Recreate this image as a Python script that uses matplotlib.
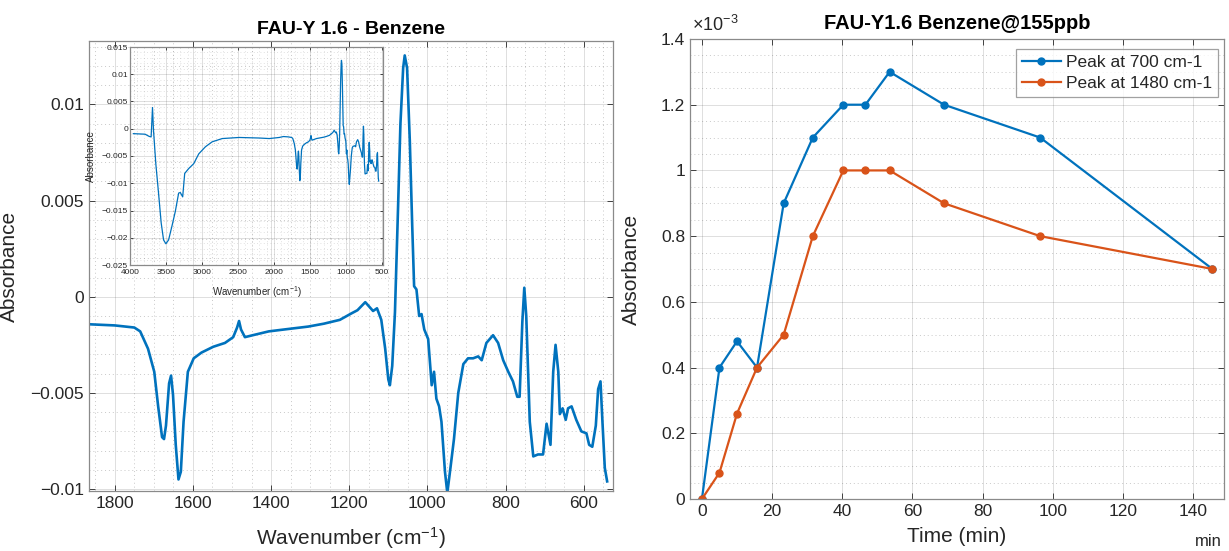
import matplotlib
matplotlib.use("Agg")
import matplotlib.pyplot as plt
from matplotlib.ticker import FuncFormatter, MultipleLocator

plt.rcParams['font.family'] = ['Liberation Sans', 'DejaVu Sans']
plt.rcParams['mathtext.fontset'] = 'custom'
plt.rcParams['mathtext.rm'] = 'Liberation Sans'
plt.rcParams['mathtext.it'] = 'Liberation Sans:italic'

BLUE = '#0072BD'
ORANGE = '#D95319'
INK = '#262626'

# ---- FTIR difference spectrum, 1866-540 cm-1 ----
wavenumber = [1866, 1800, 1750, 1735, 1715, 1699, 1689, 1679, 1674, 1669,
              1661, 1656, 1651, 1644, 1637, 1631, 1624, 1613, 1598, 1578,
              1548, 1518, 1497, 1487, 1482, 1477, 1467, 1447, 1406, 1366,
              1305, 1265, 1224, 1194, 1179, 1159, 1139, 1129, 1118, 1108,
              1100, 1096, 1090, 1083, 1075, 1069, 1062, 1058, 1052, 1045,
              1039, 1034, 1028, 1021, 1015, 1008, 998, 989, 983, 977,
              970, 964, 955, 949, 941, 932, 921, 908, 896, 883,
              870, 861, 849, 832, 819, 806, 793, 781, 770, 764,
              757, 752, 747, 738, 729, 717, 704, 695, 685, 678,
              672, 665, 661, 654, 646, 640, 631, 619, 606, 593,
              586, 578, 569, 563, 557, 552, 546, 540]
absorbance = [-0.00143, -0.00149, -0.0016, -0.0018, -0.0027, -0.0039, -0.0057, -0.0073, -0.0074, -0.0067,
              -0.0045, -0.0041, -0.0051, -0.0077, -0.0095, -0.0091, -0.0065, -0.0039, -0.0032, -0.0029,
              -0.0026, -0.0024, -0.0021, -0.0016, -0.00126, -0.0017, -0.0021, -0.0020, -0.0018, -0.0017,
              -0.00155, -0.0014, -0.0012, -0.00086, -0.0007, -0.00028, -0.00074, -0.0006, -0.0012, -0.0027,
              -0.0043, -0.0046, -0.0036, -0.0008, 0.0047, 0.0090, 0.0119, 0.01255, 0.0119, 0.0081,
              0.0038, 0.00055, 0.00038, -0.0010, -0.0009, -0.0017, -0.0022, -0.0046, -0.0039, -0.0053,
              -0.0057, -0.0065, -0.0091, -0.0102, -0.0089, -0.0074, -0.0050, -0.0035, -0.0032, -0.0032,
              -0.0031, -0.0033, -0.0024, -0.0020, -0.0024, -0.0033, -0.0039, -0.0044, -0.0052, -0.0052,
              -0.0013, 0.00047, -0.0010, -0.0065, -0.0083, -0.0082, -0.0082, -0.0066, -0.0077, -0.0039,
              -0.0025, -0.0039, -0.0061, -0.0058, -0.0064, -0.0058, -0.0057, -0.0064, -0.0070, -0.0071,
              -0.0077, -0.0078, -0.0067, -0.0048, -0.0044, -0.0065, -0.0089, -0.0096]

# ---- high-wavenumber part of the same spectrum (OH region), shown in the inset ----
wavenumber_hi = [3953, 3790, 3734, 3706, 3687, 3673, 3641, 3603, 3566, 3533,
                 3501, 3463, 3417, 3370, 3323, 3300, 3267, 3239, 3183, 3113,
                 3043, 2950, 2857, 2717, 2483, 2203, 2063, 1923]
absorbance_hi = [-0.0009, -0.0010, -0.0014, -0.0015, 0.0039, -0.0003, -0.0064, -0.0118, -0.0173, -0.0204,
                 -0.0211, -0.0204, -0.0179, -0.0152, -0.0118, -0.0117, -0.0125, -0.0082, -0.0073, -0.0064,
                 -0.0046, -0.0033, -0.0024, -0.0018, -0.0016, -0.0017, -0.0018, -0.0016]

# ---- peak absorbance vs exposure time ----
time_min = [0, 5, 10, 15.7, 23.3, 31.6, 40.3, 46.6, 53.5, 69, 96.4, 145.5]
peak_700 = [0, 0.40e-3, 0.48e-3, 0.40e-3, 0.90e-3, 1.10e-3, 1.20e-3, 1.20e-3, 1.30e-3, 1.20e-3, 1.10e-3, 0.70e-3]
peak_1480 = [0, 0.08e-3, 0.26e-3, 0.40e-3, 0.50e-3, 0.80e-3, 1.00e-3, 1.00e-3, 1.00e-3, 0.90e-3, 0.80e-3, 0.70e-3]
series_labels = ['Peak at 700 cm-1', 'Peak at 1480 cm-1']


def plain_fmt(scale=1.0):
    def f(v, pos):
        s = f'{round(v * scale, 8):g}'
        if s == '-0':
            s = '0'
        return s.replace('-', '\u2212')
    return FuncFormatter(f)


def style_axes(ax, fs, tick_len=4):
    ax.tick_params(which='major', direction='in', top=True, right=True,
                   length=tick_len, width=0.6, color=INK, labelcolor=INK,
                   labelsize=fs)
    ax.tick_params(which='minor', length=0)
    ax.grid(True, which='major', color=INK, alpha=0.15, lw=0.7, ls='-')
    ax.grid(True, which='minor', color=INK, alpha=0.25, lw=0.7, ls=(0, (1, 3)))
    for s in ax.spines.values():
        s.set_color('#8a8a8a')
        s.set_linewidth(0.9)
    ax.set_axisbelow(True)


fig = plt.figure(figsize=(12.29, 5.51), dpi=100)

# ---------- left: spectrum ----------
ax1 = fig.add_axes([89 / 1229, 60 / 551, 524 / 1229, 450 / 551])
ax1.plot(wavenumber, absorbance, color=BLUE, lw=1.9)
ax1.set_xlim(1866, 525)
ax1.set_ylim(-0.0101, 0.0133)
ax1.xaxis.set_major_locator(MultipleLocator(200))
ax1.xaxis.set_minor_locator(MultipleLocator(50))
ax1.yaxis.set_major_locator(MultipleLocator(0.005))
ax1.yaxis.set_minor_locator(MultipleLocator(0.001))
ax1.xaxis.set_major_formatter(plain_fmt())
ax1.yaxis.set_major_formatter(plain_fmt())
style_axes(ax1, 12.5)
ax1.set_title('FAU-Y 1.6 - Benzene', fontsize=14, fontweight='bold', color='black', pad=5)
ax1.set_xlabel('Wavenumber (cm$^{-1}$)', fontsize=15, color=INK)
ax1.set_ylabel('Absorbance', fontsize=15, color=INK)
ax1.xaxis.set_label_coords(0.5, -0.075)
ax1.yaxis.set_label_coords(-0.134, 0.5)

# inset: full spectrum
ax_in = fig.add_axes([130 / 1229, 286 / 551, 253 / 1229, 218 / 551])
ax_in.plot(wavenumber_hi + wavenumber, absorbance_hi + absorbance, color=BLUE, lw=0.9)
ax_in.set_xlim(4000, 480)
ax_in.set_ylim(-0.025, 0.015)
ax_in.xaxis.set_major_locator(MultipleLocator(500))
ax_in.xaxis.set_minor_locator(MultipleLocator(100))
ax_in.yaxis.set_major_locator(MultipleLocator(0.005))
ax_in.yaxis.set_minor_locator(MultipleLocator(0.001))
ax_in.xaxis.set_major_formatter(plain_fmt())
ax_in.yaxis.set_major_formatter(plain_fmt())
style_axes(ax_in, 6, tick_len=2)
ax_in.grid(True, which='minor', color=INK, alpha=0.18, lw=0.6, ls=(0, (1, 3)))
ax_in.tick_params(axis='y', which='major', pad=1.5)
ax_in.tick_params(axis='x', which='major', pad=3)
ax_in.patch.set_alpha(0.0)
ax_in.set_xlabel('Wavenumber (cm$^{-1}$)', fontsize=7, color=INK)
ax_in.set_ylabel('Absorbance', fontsize=7, color=INK)
ax_in.xaxis.set_label_coords(0.5, -0.09)
ax_in.yaxis.set_label_coords(-0.135, 0.5)

# ---------- right: peak kinetics ----------
ax2 = fig.add_axes([690 / 1229, 52 / 551, 534 / 1229, 460 / 551])
ax2.plot(time_min, peak_700, color=BLUE, lw=1.6, marker='o', ms=5, label=series_labels[0])
ax2.plot(time_min, peak_1480, color=ORANGE, lw=1.6, marker='o', ms=5, label=series_labels[1])
ax2.set_xlim(-3.4, 148.8)
ax2.set_ylim(0, 1.4e-3)
ax2.xaxis.set_major_locator(MultipleLocator(20))
ax2.yaxis.set_major_locator(MultipleLocator(0.2e-3))
ax2.yaxis.set_minor_locator(MultipleLocator(0.05e-3))
ax2.xaxis.set_major_formatter(plain_fmt())
ax2.yaxis.set_major_formatter(plain_fmt(1e3))
style_axes(ax2, 12.5)
ax2.xaxis.grid(False, which='minor')
ax2.set_title('FAU-Y1.6 Benzene@155ppb', fontsize=14.5, fontweight='bold', color='black', pad=7)
ax2.set_xlabel('Time (min)', fontsize=15, color=INK)
ax2.set_ylabel('Absorbance', fontsize=15, color=INK)
ax2.xaxis.set_label_coords(0.5, -0.06)
ax2.yaxis.set_label_coords(-0.092, 0.5)
ax2.text(0.003, 1.008, '\u00d710$^{\u22123}$', transform=ax2.transAxes,
         ha='left', va='bottom', fontsize=13, color=INK)
leg = ax2.legend(loc='upper right', bbox_to_anchor=(1 - 6 / 534, 1 - 10 / 460),
                 borderaxespad=0, fontsize=12.5, frameon=True, fancybox=False,
                 edgecolor='#8a8a8a', handlelength=2.2, handletextpad=0.3,
                 borderpad=0.35, labelspacing=0.3)
leg.get_frame().set_linewidth(0.9)
for t in leg.get_texts():
    t.set_color(INK)
fig.text(1208 / 1229, 1 - 542 / 551, 'min', ha='center', va='center', fontsize=12, color=INK)

fig.savefig('out.png', dpi=100)
